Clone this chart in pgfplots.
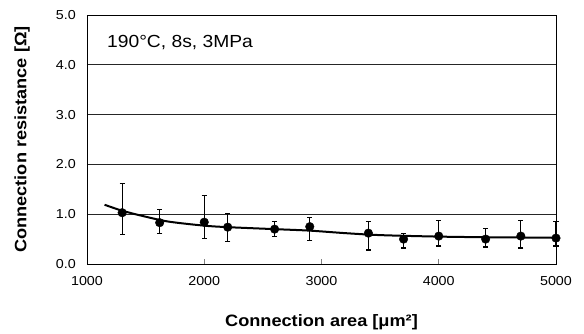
\documentclass[border=0pt]{standalone}
\usepackage{fontspec}
\setmainfont[FakeStretch=1.1]{Liberation Sans}
\usepackage{pgfplots}
\usepackage{pgfplotstable}
\pgfplotsset{compat=1.18}

\pgfplotstableread{
x y ep em
1300 1.03 0.59 0.43
1620 0.83 0.27 0.21
2000 0.84 0.53 0.32
2200 0.74 0.27 0.29
2600 0.70 0.15 0.14
2900 0.75 0.18 0.28
3400 0.62 0.23 0.34
3700 0.50 0.12 0.18
4000 0.56 0.31 0.20
4400 0.50 0.22 0.16
4700 0.56 0.31 0.24
5000 0.52 0.33 0.16
}\meas

\pgfplotstableread{
x y
1150 1.19
1300 1.07
1500 0.95
1700 0.85
2000 0.77
2200 0.74
2600 0.70
2900 0.67
3200 0.62
3500 0.58
4000 0.55
4500 0.535
5000 0.53
}\fit

\begin{document}
\begin{tikzpicture}
\begin{axis}[
  name=ax,
  at={(0pt,0pt)}, anchor=south west,
  scale only axis, width=469pt, height=249pt,
  xmin=1000, xmax=5000, ymin=0, ymax=5,
  xtick={1000,2000,3000,4000,5000},
  ytick={0,1,2,3,4,5},
  /pgf/number format/assume math mode=true,
  xticklabel style={/pgf/number format/set thousands separator={}, anchor=center, yshift=-17pt, font=\fontsize{13}{15}\selectfont},
  yticklabel style={/pgf/number format/.cd, fixed, fixed zerofill, precision=1, /tikz/.cd, anchor=east, inner sep=0pt, xshift=-11pt, font=\fontsize{13}{15}\selectfont},
  ymajorgrids, grid style={black!85, line width=0.7pt},
  xtick pos=bottom, ytick style={draw=none},
  xtick style={gray, line width=0.8pt}, major tick length=5pt,
  axis line style={black, line width=0.9pt},
  xlabel={\bfseries Connection area [μm²]},
  ylabel={\bfseries Connection resistance [Ω]},
  xlabel style={at={(axis description cs:0.5,-0.233)}, anchor=center, font=\fontsize{16.5}{18}\selectfont},
  ylabel style={at={(axis description cs:-0.1386,0.5)}, anchor=center, font=\fontsize{16.5}{18}\selectfont},
  clip=false,
]
\addplot[black, line width=2pt, smooth, no marks] table[x=x,y=y] {\fit};
\addplot[black, only marks, mark=*, mark size=4.3pt,
  error bars/.cd, y dir=both, y explicit,
  error bar style={line width=1.2pt, black},
  error mark options={rotate=90, mark size=2.6pt, line width=1.2pt, black}]
  table[x=x, y=y, y error plus=ep, y error minus=em] {\meas};
\node[anchor=west, inner sep=0pt, font=\fontsize{17.5}{20}\selectfont] at (rel axis cs:0.0426,0.888) {190°C, 8s, 3MPa};
\end{axis}
\path (ax.south west) ++(-87pt,-70pt) rectangle ++(584pt,334pt);
\end{tikzpicture}
\end{document}
